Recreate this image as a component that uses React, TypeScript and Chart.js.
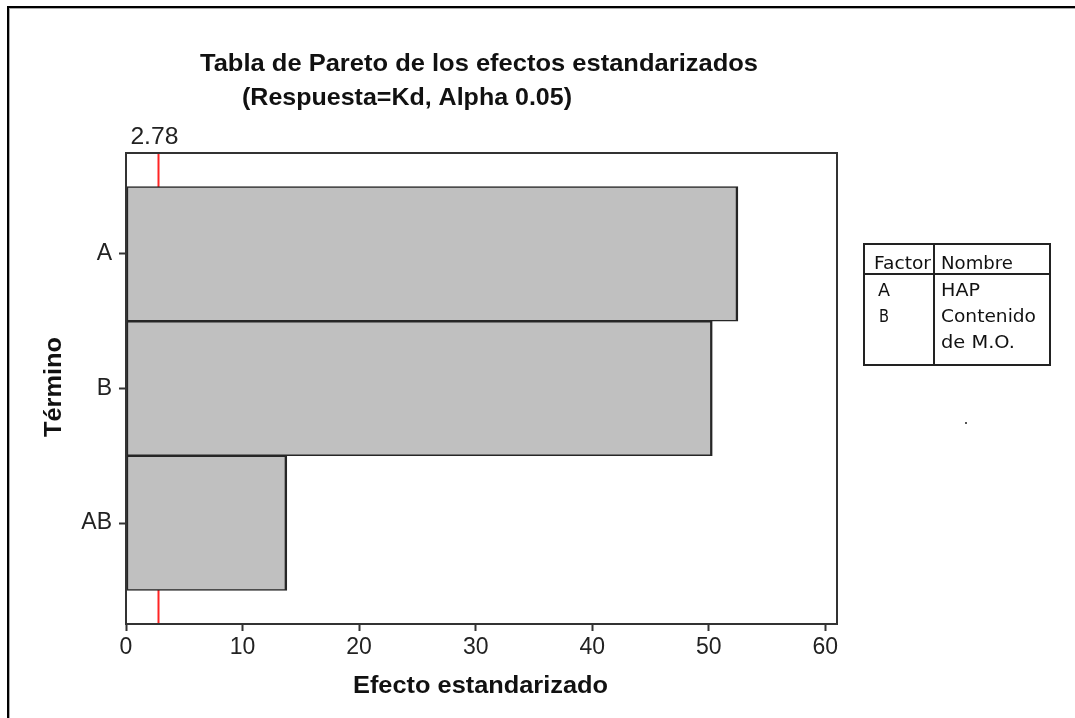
import { useEffect, useRef } from 'react';
import { Chart, registerables } from 'chart.js';

Chart.register(...registerables);

// Terms of the factorial model and their standardized effects
const terms = ['A', 'B', 'AB'];
const effects = [52.5, 50.3, 13.8];

// Horizontal axis ticks and the significance limit (Alpha 0.05)
const xTicks = [0, 10, 20, 30, 40, 50, 60];
const xMax = 61;
const alphaLimit = 2.78;

// Factor key table
const factorCodes = ['A', 'B'];
const factorNameLines = [['HAP'], ['Contenido', 'de M.O.']];

const titleLine1 = 'Tabla de Pareto de los efectos estandarizados';
const titleLine2 = '(Respuesta=Kd, Alpha 0.05)';
const xTitle = 'Efecto estandarizado';
const yTitle = 'Término';

const BOLD = 'bold 24px "Liberation Sans", Arial, sans-serif';
const TICK_FONT = '"Liberation Sans", Arial, sans-serif';
const TABLE_FONT = '17px "DejaVu Sans", Verdana, sans-serif';

// Draws text starting at (x, y) on the baseline, squeezed or stretched to a given width
function fitText(
  ctx: CanvasRenderingContext2D,
  text: string,
  x: number,
  y: number,
  font: string,
  width: number,
  rotate = false
) {
  ctx.save();
  ctx.font = font;
  ctx.textAlign = 'left';
  ctx.textBaseline = 'alphabetic';
  const w = ctx.measureText(text).width || 1;
  ctx.translate(x, y);
  if (rotate) ctx.rotate(-Math.PI / 2);
  ctx.scale(width / w, 1);
  ctx.fillText(text, 0, 0);
  ctx.restore();
}

const paretoDecor = {
  id: 'paretoDecor',
  beforeDatasetsDraw(chart: any) {
    const { ctx, chartArea, scales } = chart;
    const x = Math.round(scales.x.getPixelForValue(alphaLimit)) + 0.5;
    ctx.save();
    ctx.strokeStyle = '#ff2424';
    ctx.lineWidth = 2;
    ctx.beginPath();
    ctx.moveTo(x, chartArea.top);
    ctx.lineTo(x, chartArea.bottom);
    ctx.stroke();
    ctx.restore();
  },
  afterDraw(chart: any) {
    const { ctx, chartArea, scales } = chart;
    ctx.save();

    // plot frame
    ctx.strokeStyle = '#333';
    ctx.lineWidth = 2;
    ctx.strokeRect(chartArea.left, chartArea.top, chartArea.right - chartArea.left, chartArea.bottom - chartArea.top);

    ctx.fillStyle = '#111';
    // titles
    fitText(ctx, titleLine1, 200, 71, BOLD, 558);
    fitText(ctx, titleLine2, 242, 105, BOLD, 330);
    fitText(ctx, xTitle, 353, 693, BOLD, 255);
    fitText(ctx, yTitle, 60.5, 437, BOLD, 100, true);

    // limit label above the reference line
    ctx.fillStyle = '#222';
    const lx = scales.x.getPixelForValue(alphaLimit);
    fitText(ctx, String(alphaLimit), lx - 28, 144, '23px ' + TICK_FONT, 48);

    // factor key table
    const tl = 864, tt = 244, tr = 1050, tb = 365, tv = 934, th = 274;
    ctx.strokeStyle = '#222';
    ctx.lineWidth = 2;
    ctx.strokeRect(tl, tt, tr - tl, tb - tt);
    ctx.beginPath();
    ctx.moveTo(tv, tt);
    ctx.lineTo(tv, tb);
    ctx.moveTo(tl, th);
    ctx.lineTo(tr, th);
    ctx.stroke();

    ctx.fillStyle = '#111';
    fitText(ctx, 'Factor', 874, 269, TABLE_FONT, 57);
    fitText(ctx, 'Nombre', 941, 269, TABLE_FONT, 72);
    const codeWidths = [12, 10];
    const nameWidths: Record<string, number> = { HAP: 39, Contenido: 95, 'de M.O.': 74 };
    let row = 0;
    factorCodes.forEach((code, i) => {
      const base = 295.5 + row * 26;
      fitText(ctx, code, i === 0 ? 878 : 879, base, TABLE_FONT, codeWidths[i]);
      factorNameLines[i].forEach((line, j) => {
        fitText(ctx, line, 941, base + j * 26, TABLE_FONT, nameWidths[line] ?? 60);
      });
      row += factorNameLines[i].length;
    });

    // small stray mark beneath the table
    ctx.fillStyle = '#555';
    ctx.fillRect(965, 422, 2, 2);

    // page frame (top and left edges)
    ctx.fillStyle = '#000';
    ctx.fillRect(7, 6, 1068, 2);
    ctx.fillRect(7, 6, 2, 712);
    ctx.fillStyle = '#aaa';
    ctx.fillRect(9, 8, 1066, 1);
    ctx.fillRect(9, 8, 1, 710);
    ctx.restore();
  },
};

export default function App() {
  const ref = useRef<HTMLCanvasElement>(null);

  useEffect(() => {
    if (!ref.current) return;
    const chart = new Chart(ref.current, {
      type: 'bar',
      data: {
        datasets: [
          {
            data: effects.map((v, i) => ({ x: v, y: i })),
            backgroundColor: '#c0c0c0',
            borderColor: '#262626',
            borderWidth: { top: 1.5, bottom: 1.5, left: 2, right: 2.5 },
            borderSkipped: false,
            barPercentage: 1,
            categoryPercentage: 1,
          },
        ],
      },
      options: {
        indexAxis: 'y',
        responsive: false,
        devicePixelRatio: 1,
        animation: false,
        layout: { padding: { left: 60, top: 153, right: 238, bottom: 34 } },
        plugins: {
          legend: { display: false },
          title: { display: false },
          tooltip: { enabled: false },
        },
        scales: {
          x: {
            type: 'linear',
            position: 'bottom',
            min: 0,
            max: xMax,
            afterBuildTicks: (s: any) => {
              s.ticks = xTicks.map((v) => ({ value: v }));
            },
            afterFit: (s: any) => {
              s.height = 60;
            },
            border: { display: false },
            grid: {
              display: true,
              drawOnChartArea: false,
              drawTicks: true,
              tickLength: 7,
              tickColor: '#333',
              tickWidth: 2,
            },
            ticks: {
              color: '#222',
              font: { family: TICK_FONT, size: 23 },
              padding: 3,
              maxRotation: 0,
              autoSkip: false,
            },
          },
          y: {
            type: 'linear',
            position: 'left',
            reverse: true,
            offset: false,
            min: -0.75,
            max: 2.75,
            afterBuildTicks: (s: any) => {
              s.ticks = terms.map((_, i) => ({ value: i }));
            },
            afterFit: (s: any) => {
              s.width = 66;
            },
            border: { display: false },
            grid: {
              display: true,
              offset: false,
              drawOnChartArea: false,
              drawTicks: true,
              tickLength: 7,
              tickColor: '#333',
              tickWidth: 2,
            },
            ticks: {
              color: '#222',
              font: { family: TICK_FONT, size: 23 },
              padding: 7,
              autoSkip: false,
              callback: (v: any) => terms[v as number] ?? '',
            },
          },
        },
      },
      plugins: [paretoDecor],
    } as any);
    return () => chart.destroy();
  }, []);

  return (
    <div style={{ position: 'absolute', left: 0, top: 0, width: 1075, height: 718, background: '#fff' }}>
      <canvas ref={ref} width={1075} height={718} style={{ display: 'block', width: 1075, height: 718 }} />
    </div>
  );
}
